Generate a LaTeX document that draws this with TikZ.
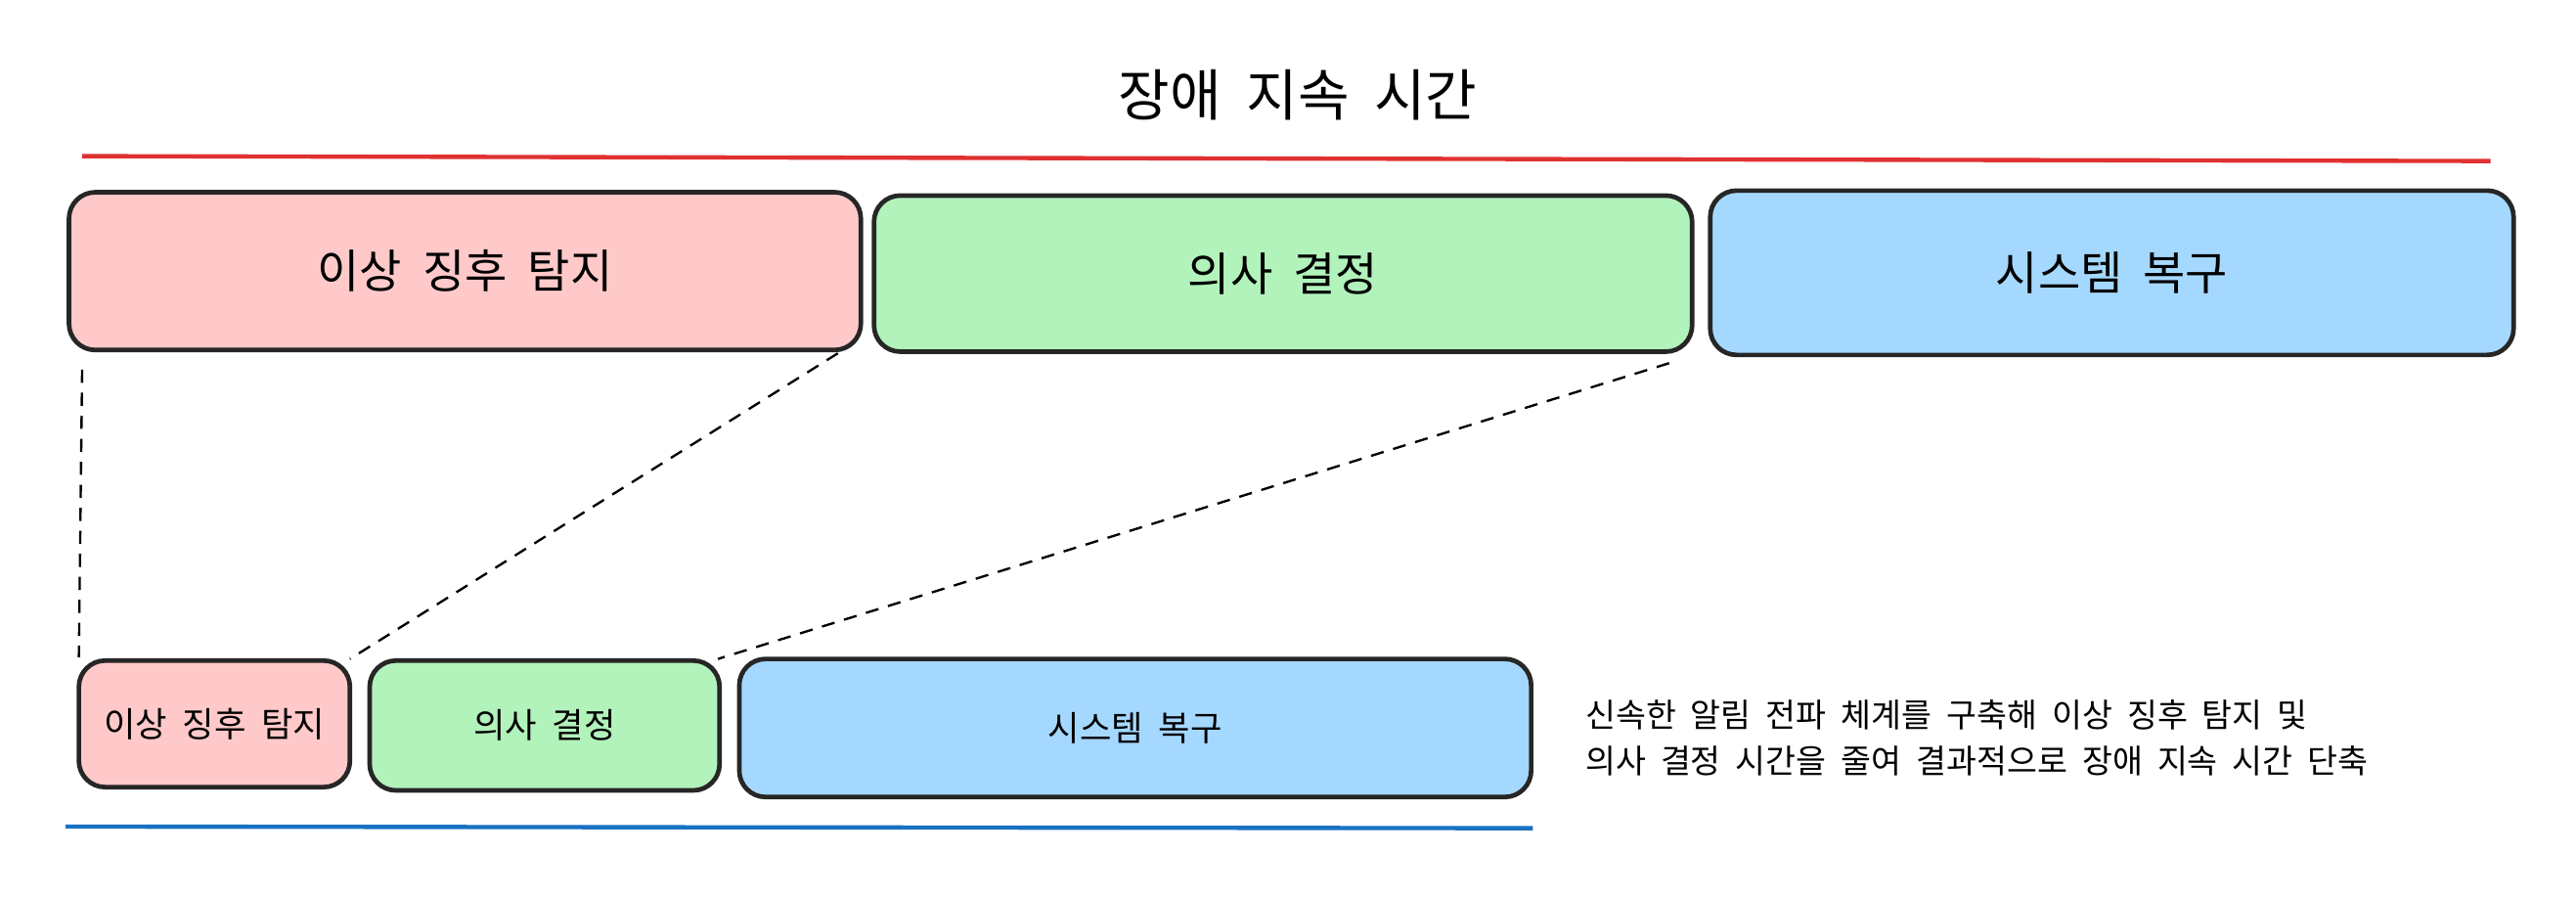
\documentclass[tikz,border=0pt]{standalone}
\usepackage{fontspec}
\setmainfont{Noto Sans CJK KR}
\begin{document}
\begin{tikzpicture}[x=0.5pt,y=-0.5pt,
  box/.style={draw=black!85,line width=1.4pt,rounded corners=8pt,inner sep=0pt},
  dline/.style={line width=0.7pt,dash pattern=on 4pt off 3pt}]
\definecolor{pk}{HTML}{FFC9C9}\definecolor{gr}{HTML}{B2F2BB}\definecolor{bl}{HTML}{A5D8FF}
\useasboundingbox (0,0) rectangle (1568,546);
\node (title) at (790,58) {\fontsize{17}{20}\selectfont 장애\ \ 지속\ \ 시간};
\coordinate (r1) at (50,95); \coordinate (r2) at (1516,98);
\draw[color={rgb,255:red,224;green,49;blue,49},line width=1.3pt] (r1)--(r2);
\draw[box,fill=pk] (42,117) rectangle (524,213) node[midway] (A) {\fontsize{14}{17}\selectfont 이상\ \ 징후\ \ 탐지};
\draw[box,fill=gr] (532,119) rectangle (1030,214) node[midway] (B) {\fontsize{14}{17}\selectfont 의사\ \ 결정};
\draw[box,fill=bl] (1041,116) rectangle (1530,216) node[midway] (C) {\fontsize{14}{17}\selectfont 시스템\ \ 복구};
\draw[box,fill=pk] (48,402) rectangle (213,479) node[midway] (a) {\fontsize{10.5}{13}\selectfont 이상\ \ 징후\ \ 탐지};
\draw[box,fill=gr] (225,402) rectangle (438,481) node[midway] (b) {\fontsize{10.5}{13}\selectfont 의사\ \ 결정};
\draw[box,fill=bl] (450,401) rectangle (932,485) node[midway] (c) {\fontsize{10.5}{13}\selectfont 시스템\ \ 복구};
\coordinate (b1) at (40,503); \coordinate (b2) at (933,504);
\draw[color={rgb,255:red,25;green,113;blue,194},line width=1.3pt] (b1)--(b2);
\coordinate (d1) at (50,225); \coordinate (d2) at (48,400);
\coordinate (d3) at (510,215); \coordinate (d4) at (213,401);
\coordinate (d5) at (1016,221); \coordinate (d6) at (437,401);
\draw[dline] (d1)--(d2); \draw[dline] (d3)--(d4); \draw[dline] (d5)--(d6);
\node[anchor=west,align=left,font=\fontsize{10}{14}\selectfont] (note) at (958,449) {신속한\ \ 알림\ \ 전파\ \ 체계를\ \ 구축해\ \ 이상\ \ 징후\ \ 탐지\ \ 및\\의사\ \ 결정\ \ 시간을\ \ 줄여\ \ 결과적으로\ \ 장애\ \ 지속\ \ 시간\ \ 단축};
\end{tikzpicture}
\end{document}
